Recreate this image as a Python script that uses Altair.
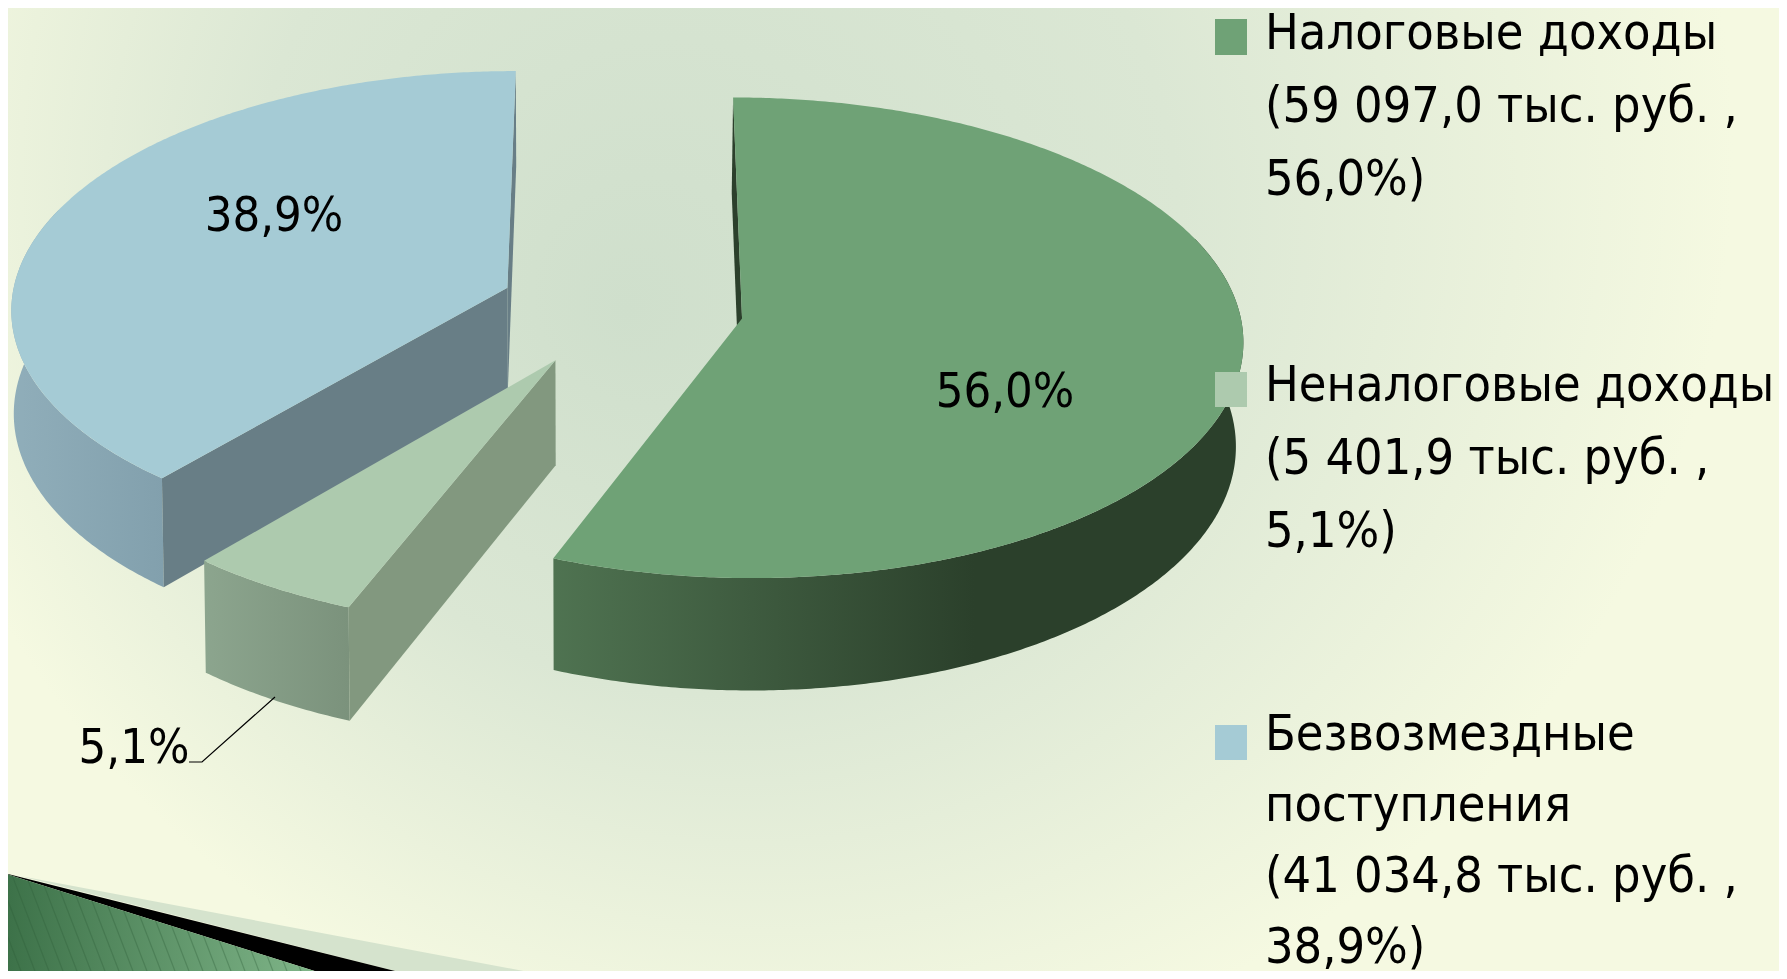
import math
import altair as alt

# ---- data ----
names = ["Налоговые доходы", "Неналоговые доходы", "Безвозмездные поступления"]
amounts = [59097.0, 5401.9, 41034.8]
pct_labels = ["56,0%", "5,1%", "38,9%"]
legend_blocks = [
    ["Налоговые доходы", "(59 097,0 тыс. руб. ,", "56,0%)"],
    ["Неналоговые доходы", "(5 401,9 тыс. руб. ,", "5,1%)"],
    ["Безвозмездные", "поступления", "(41 034,8 тыс. руб. ,", "38,9%)"],
]
top_colors = ["#6fa276", "#adcaae", "#a5cbd5"]
rim_stops = [
    [("#4f7351", 0.0), ("#2b402b", 0.61), ("#2b402b", 1.0)],
    [("#8ca58e", 0.0), ("#7b927c", 1.0)],
    [("#90aeba", 0.0), ("#82a0ad", 1.0)],
]
face_colors = ["#2c402c", "#82987f", "#687e86"]
face_edge = ["start", "start", "both"]
explode = [0.246, 0.255, 0.246]

label_px = [(1005, 407), (134, 763), (274, 231)]
legend_x = 1265
legend_base = [49, 401, 750]
legend_step = [73, 73, 71]
swatch_y = [(19, 55), (372, 407), (725, 760)]
swatch_x = (1215, 1247)
leader_x = [275, 202, 189]
leader_y = [697, 762, 762]

# ---- view of the tilted pie ----
X0, Y0, A, B, K, DEPTH, SHRINK_L, SHRINK_R = 621.5, 307.5, 497.0, 237.0, 0.08, 103.0, 0.996, 0.988
W, H = 1771, 963


def proj(u, v, low=False):
    s = 1 / (1 - K * v)
    x = X0 + A * u * s
    y = Y0 + B * v * s
    if low:
        x = X0 + (x - X0) * (SHRINK_L if x < X0 else SHRINK_R)
        y = y + DEPTH * s
    return [round(x, 2), round(y, 2)]


def poly(points):
    pts = list(points) + [points[0]]
    return {"type": "Feature", "properties": {}, "geometry": {"type": "Polygon", "coordinates": [pts]}}


def shape(points, fill):
    return alt.Chart(alt.Data(values=[poly(points)])).mark_geoshape(
        fill=fill, stroke="transparent", strokeWidth=0
    ).project(type="identity", scale=1, translate=[-8, -8])


def hgrad(stops):
    return alt.Gradient(
        gradient="linear", x1=0, y1=0, x2=1, y2=0,
        stops=[alt.GradientStop(color=c, offset=o) for c, o in stops],
    )


xs = alt.Scale(domain=[8, 8 + W], range=[0, W], nice=False, zero=False)
ys = alt.Scale(domain=[8, 8 + H], range=[0, H], nice=False, zero=False)

# background (extends above the canvas so the glow sits high up)
bg = alt.Chart(alt.Data(values=[{"a": 0, "b": 1787, "c": -500, "d": 979}])).mark_rect(
    clip=True,
    fill=alt.Gradient(
        gradient="radial", x1=0.35, y1=0.54, r1=0, x2=0.45, y2=0.45, r2=0.52,
        stops=[
            alt.GradientStop(color="#cfdfcc", offset=0),
            alt.GradientStop(color="#dbe7d4", offset=0.5),
            alt.GradientStop(color="#f5f9e1", offset=1),
        ],
    ),
).encode(
    x=alt.X("a:Q", scale=xs, axis=None), x2="b:Q",
    y=alt.Y("c:Q", scale=ys, axis=None), y2="d:Q",
)

layers = [bg]

# bottom-left decoration
layers.append(shape([[20, 876], [566, 979], [427, 979]], "#d5e3cd"))
layers.append(shape([[0, 872], [427, 979], [340, 979]], "#000000"))
layers.append(shape([[0, 872], [340, 979], [0, 979]],
                    hgrad([("#3b7047", 0.0), ("#85bb8e", 1.0)])))
stripe_rows = []
for xb in range(10, 340, 14):
    m = 2.6
    # stripe from the wedge's upper edge down to the slide's bottom
    x_top = (979 - 872 - m * xb) / (0.3147 - m)
    stripe_rows.append({"x": x_top, "y": 872 + 0.3147 * x_top, "x2": xb, "y2": 979})
layers.append(
    alt.Chart(alt.Data(values=stripe_rows)).mark_rule(clip=True, color="#2f5f3a", opacity=0.35, strokeWidth=1.2).encode(
        x=alt.X("x:Q", scale=xs, axis=None), y=alt.Y("y:Q", scale=ys, axis=None), x2="x2:Q", y2="y2:Q"
    )
)

# slices
total = sum(amounts)
cum = 0.0
slices = []
for i, val in enumerate(amounts):
    a0 = cum / total * 2 * math.pi
    cum += val
    a1 = cum / total * 2 * math.pi
    mid = (a0 + a1) / 2
    slices.append((i, a0, a1, explode[i] * math.sin(mid), -explode[i] * math.cos(mid)))


def arc(a0, a1, u0, v0, low=False):
    n = max(2, int((a1 - a0) / math.radians(0.5)))
    return [proj(u0 + math.sin(a0 + (a1 - a0) * j / n), v0 - math.cos(a0 + (a1 - a0) * j / n), low)
            for j in range(n + 1)]


def draw(i):
    _, a0, a1, u0, v0 = slices[i]
    out = []
    # outer rim, near part only
    ra0 = max(a0, math.radians(70))
    ra1 = min(a1, math.radians(290))
    if ra1 > ra0:
        rim = arc(ra0, ra1, u0, v0) + arc(ra0, ra1, u0, v0, True)[::-1]
        out.append(shape(rim, hgrad(rim_stops[i])))
    # radial cut faces
    for ang, key in ((a0, "start"), (a1, "end")):
        if face_edge[i] == key or face_edge[i] == "both":
            p = (u0 + math.sin(ang), v0 - math.cos(ang))
            out.append(shape([proj(u0, v0), proj(*p), proj(*p, True), proj(u0, v0, True)], face_colors[i]))
    # top
    out.append(shape([proj(u0, v0)] + arc(a0, a1, u0, v0), top_colors[i]))
    return out


for i in (2, 1, 0):
    layers.extend(draw(i))

# leader line
layers.append(
    alt.Chart(alt.Data(values=[{"x": x, "y": y, "o": k} for k, (x, y) in enumerate(zip(leader_x, leader_y))]))
    .mark_line(color="#000000", strokeWidth=1.2)
    .encode(x=alt.X("x:Q", scale=xs, axis=None), y=alt.Y("y:Q", scale=ys, axis=None), order="o:Q")
)

# percentage labels
layers.append(
    alt.Chart(alt.Data(values=[{"t": t, "x": p[0], "y": p[1]} for t, p in zip(pct_labels, label_px)]))
    .mark_text(font="DejaVu Sans Condensed, Noto Sans", fontSize=48.5, align="center", baseline="alphabetic", color="#000000")
    .encode(x=alt.X("x:Q", scale=xs, axis=None), y=alt.Y("y:Q", scale=ys, axis=None), text="t:N")
)

# legend swatches and text
swatch_rows = [{"x": swatch_x[0], "x2": swatch_x[1], "y": a, "y2": b, "c": c}
               for (a, b), c in zip(swatch_y, top_colors)]
layers.append(
    alt.Chart(alt.Data(values=swatch_rows)).mark_rect().encode(
        x=alt.X("x:Q", scale=xs, axis=None), x2="x2:Q",
        y=alt.Y("y:Q", scale=ys, axis=None), y2="y2:Q",
        color=alt.Color("c:N", scale=None),
    )
)
text_rows = []
for base, step, block in zip(legend_base, legend_step, legend_blocks):
    for j, line in enumerate(block):
        text_rows.append({"t": line, "x": legend_x, "y": base + step * j})
layers.append(
    alt.Chart(alt.Data(values=text_rows))
    .mark_text(font="DejaVu Sans Condensed, Noto Sans", fontSize=50, align="left", baseline="alphabetic", color="#000000")
    .encode(x=alt.X("x:Q", scale=xs, axis=None), y=alt.Y("y:Q", scale=ys, axis=None), text="t:N")
)

chart = alt.layer(*layers).properties(
    width=W, height=H, padding=0, background="#f5f9e1",
    autosize=alt.AutoSizeParams(type="none"),
).configure_view(stroke=None)

chart.save("out.html", embed_options={"renderer": "svg", "actions": False})
